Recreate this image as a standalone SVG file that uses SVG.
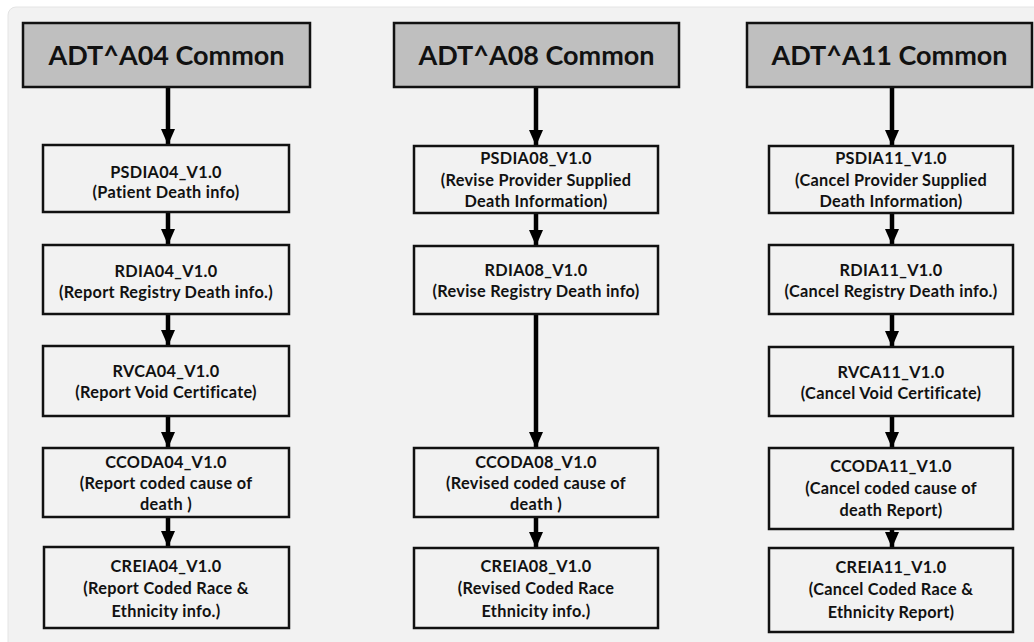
<svg xmlns="http://www.w3.org/2000/svg" width="1034" height="642" viewBox="0 0 1034 642">
<defs>
<style>
.hdr{fill:#bfbfbf;stroke:#111;stroke-width:2.5}
.box{fill:#f2f2f2;stroke:#111;stroke-width:2.5}
.ht{font-family:Lato,"Liberation Sans",sans-serif;font-weight:bold;font-size:27px;fill:#111;text-anchor:middle}
.t{font-family:Lato,"Liberation Sans",sans-serif;font-weight:bold;font-size:16.3px;letter-spacing:0.3px;fill:#111;text-anchor:middle}
.c{stroke:#000;stroke-width:4.5;fill:none;marker-end:url(#ah)}
</style>
<marker id="ah" markerUnits="userSpaceOnUse" markerWidth="18" markerHeight="14" refX="16" refY="7" orient="auto" viewBox="0 0 18 14">
<path d="M0,0 L16,7 L0,14 Z" fill="#000"/>
</marker>
</defs>
<rect x="0" y="0" width="1034" height="642" fill="#ffffff"/>
<rect x="8" y="7" width="1040" height="650" rx="8" fill="#f2f2f2" stroke="#e4e4e4" stroke-width="1"/>

<g id="connectors">
<line class="c" x1="168" y1="88" x2="168" y2="145"/>
<line class="c" x1="168" y1="213" x2="168" y2="245"/>
<line class="c" x1="168" y1="315" x2="168" y2="346"/>
<line class="c" x1="168" y1="417" x2="168" y2="448"/>
<line class="c" x1="168" y1="518" x2="168" y2="547"/>
<line class="c" x1="536" y1="88" x2="536" y2="146"/>
<line class="c" x1="536" y1="214" x2="536" y2="246"/>
<line class="c" x1="536" y1="315" x2="536" y2="448"/>
<line class="c" x1="536" y1="518" x2="536" y2="548"/>
<line class="c" x1="892" y1="88" x2="892" y2="146"/>
<line class="c" x1="892" y1="214" x2="892" y2="245"/>
<line class="c" x1="892" y1="315" x2="892" y2="347"/>
<line class="c" x1="892" y1="417" x2="892" y2="448"/>
<line class="c" x1="892" y1="530" x2="892" y2="548"/>
</g>

<g id="h1"><rect class="hdr" x="23" y="23" width="287" height="64"/><text class="ht" x="166.5" y="65">ADT^A04 Common</text></g>
<g id="h2"><rect class="hdr" x="394" y="23" width="285" height="64"/><text class="ht" x="536.5" y="65">ADT^A08 Common</text></g>
<g id="h3"><rect class="hdr" x="747" y="23" width="285" height="64"/><text class="ht" x="889.5" y="65">ADT^A11 Common</text></g>

<g id="psdia04"><rect class="box" x="43" y="145" width="246" height="67"/><text class="t" x="166" y="178">PSDIA04_V1.0</text><text class="t" x="166" y="198">(Patient Death info)</text></g>
<g id="rdia04"><rect class="box" x="43" y="245" width="246" height="69"/><text class="t" x="166" y="277">RDIA04_V1.0</text><text class="t" x="166" y="298">(Report Registry Death info.)</text></g>
<g id="rvca04"><rect class="box" x="43" y="346" width="246" height="70"/><text class="t" x="166" y="377">RVCA04_V1.0</text><text class="t" x="166" y="398">(Report Void Certificate)</text></g>
<g id="ccoda04"><rect class="box" x="43" y="448" width="246" height="69"/><text class="t" x="166" y="468">CCODA04_V1.0</text><text class="t" x="166" y="489">(Report coded cause of</text><text class="t" x="166" y="510">death )</text></g>
<g id="creia04"><rect class="box" x="44" y="547" width="245" height="81"/><text class="t" x="166" y="572">CREIA04_V1.0</text><text class="t" x="166" y="594">(Report Coded Race &amp;</text><text class="t" x="166" y="617">Ethnicity info.)</text></g>

<g id="psdia08"><rect class="box" x="414" y="146" width="244" height="67"/><text class="t" x="536" y="164">PSDIA08_V1.0</text><text class="t" x="536" y="186">(Revise Provider Supplied</text><text class="t" x="536" y="207">Death Information)</text></g>
<g id="rdia08"><rect class="box" x="414" y="246" width="244" height="68"/><text class="t" x="536" y="276">RDIA08_V1.0</text><text class="t" x="536" y="297">(Revise Registry Death info)</text></g>
<g id="ccoda08"><rect class="box" x="414" y="448" width="244" height="69"/><text class="t" x="536" y="468">CCODA08_V1.0</text><text class="t" x="536" y="489">(Revised coded cause of</text><text class="t" x="536" y="510">death )</text></g>
<g id="creia08"><rect class="box" x="414" y="548" width="244" height="80"/><text class="t" x="536" y="572">CREIA08_V1.0</text><text class="t" x="536" y="594">(Revised Coded Race</text><text class="t" x="536" y="617">Ethnicity info.)</text></g>

<g id="psdia11"><rect class="box" x="769" y="146" width="244" height="67"/><text class="t" x="891" y="164">PSDIA11_V1.0</text><text class="t" x="891" y="186">(Cancel Provider Supplied</text><text class="t" x="891" y="207">Death Information)</text></g>
<g id="rdia11"><rect class="box" x="769" y="245" width="244" height="69"/><text class="t" x="891" y="276">RDIA11_V1.0</text><text class="t" x="891" y="297">(Cancel Registry Death info.)</text></g>
<g id="rvca11"><rect class="box" x="769" y="347" width="244" height="69"/><text class="t" x="891" y="378">RVCA11_V1.0</text><text class="t" x="891" y="399">(Cancel Void Certificate)</text></g>
<g id="ccoda11"><rect class="box" x="769" y="448" width="244" height="81"/><text class="t" x="891" y="472">CCODA11_V1.0</text><text class="t" x="891" y="494">(Cancel coded cause of</text><text class="t" x="891" y="516">death Report)</text></g>
<g id="creia11"><rect class="box" x="769" y="548" width="244" height="84"/><text class="t" x="891" y="573">CREIA11_V1.0</text><text class="t" x="891" y="595">(Cancel Coded Race &amp;</text><text class="t" x="891" y="618">Ethnicity Report)</text></g>
</svg>
